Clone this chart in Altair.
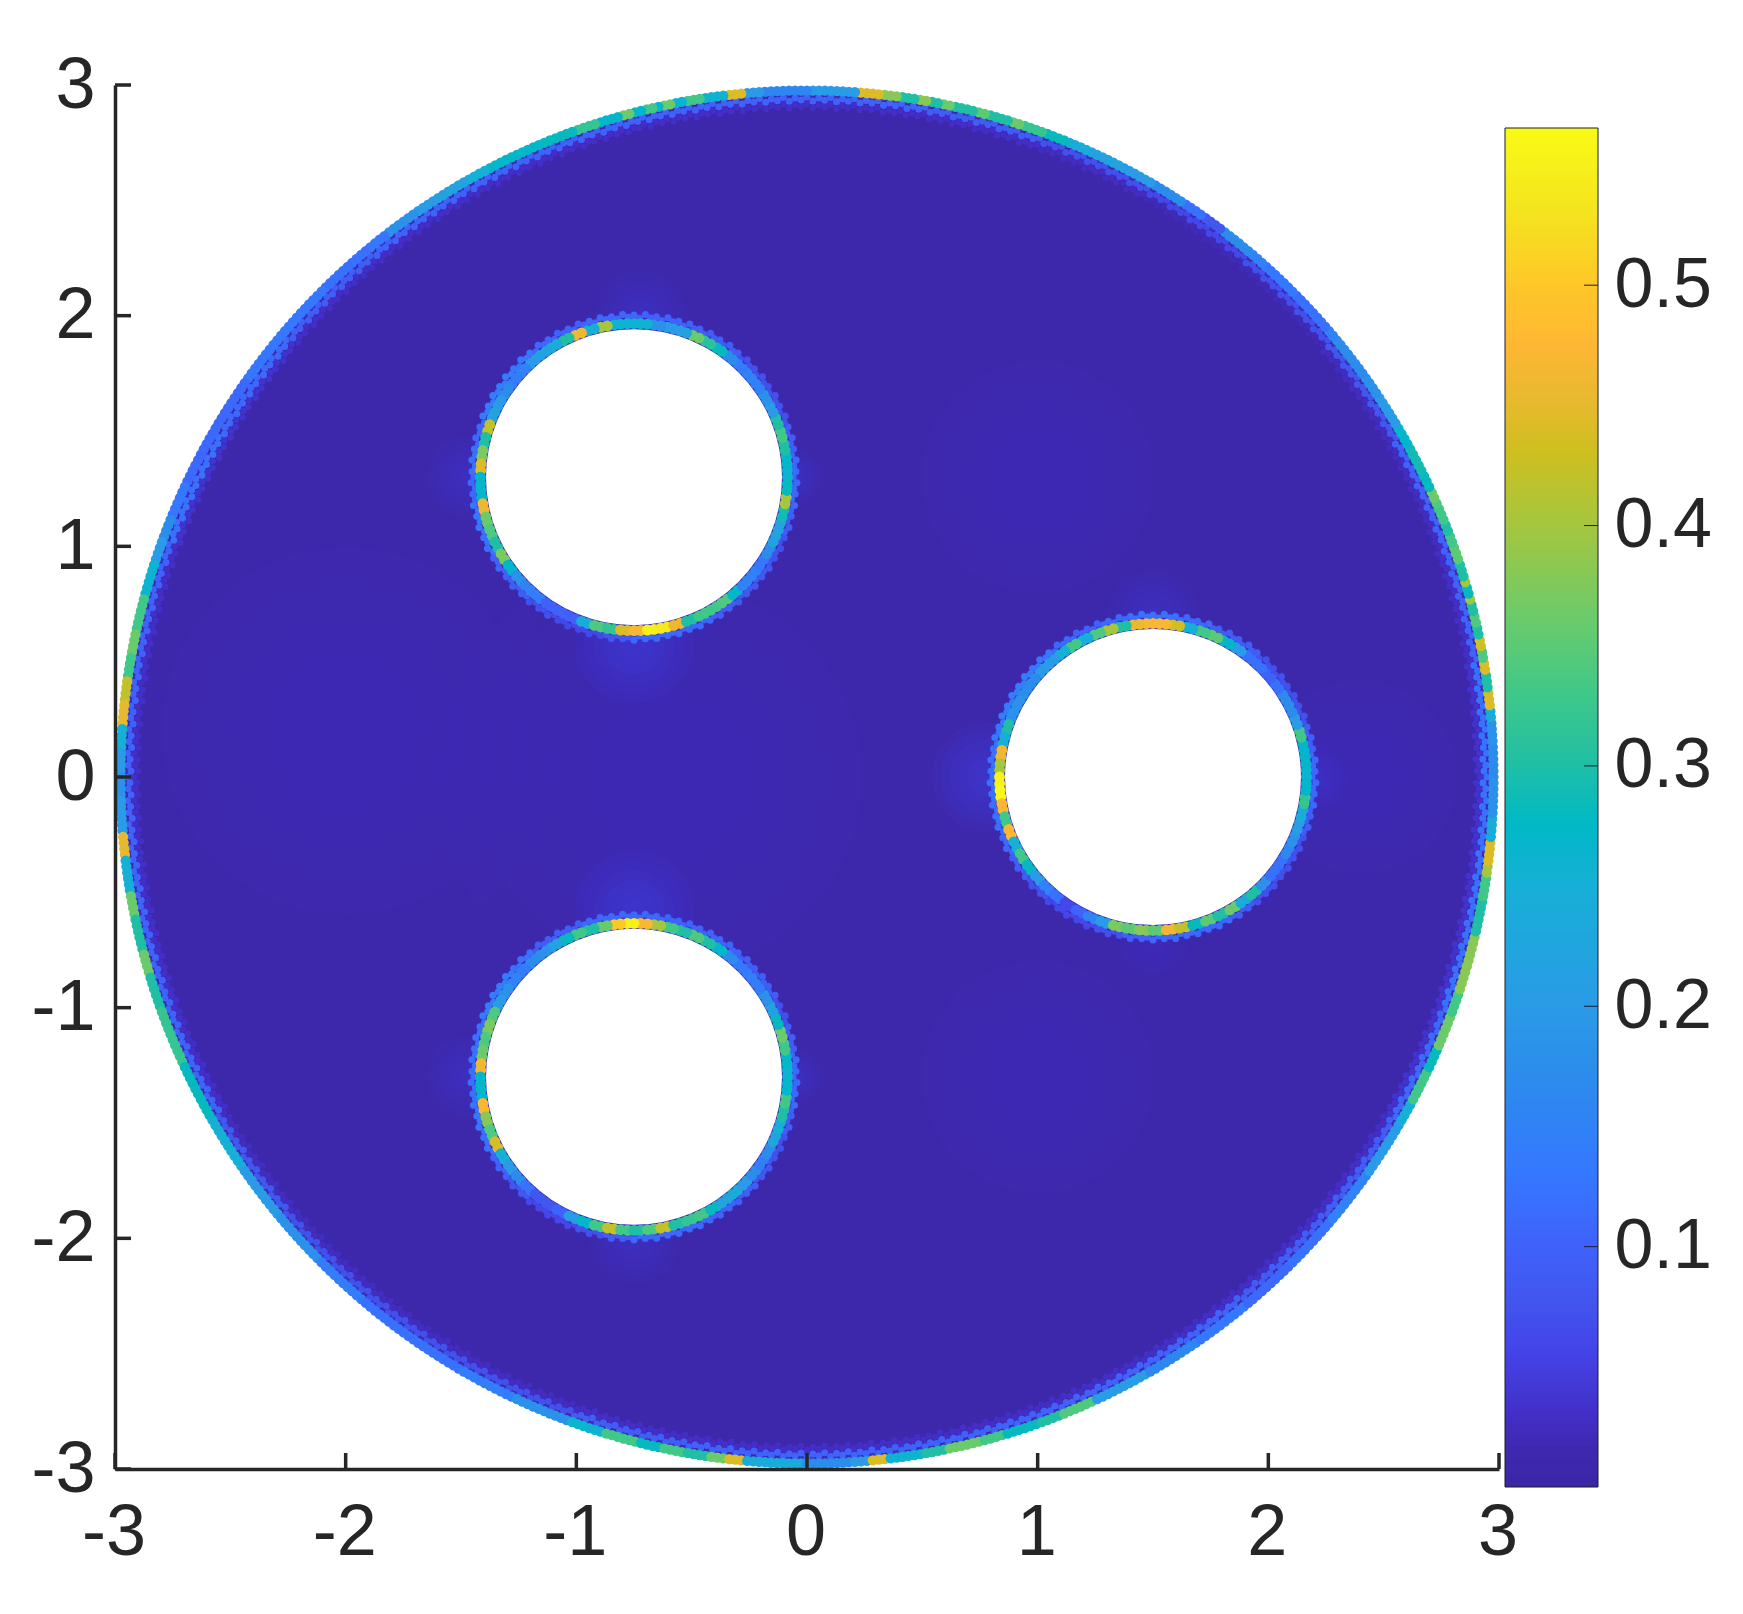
import numpy as np
import pandas as pd
import altair as alt

alt.data_transformers.disable_max_rows()

# --- axes and colour bar -------------------------------------------------
TICKS = [-3, -2, -1, 0, 1, 2, 3]
BAR_TICKS = [0.1, 0.2, 0.3, 0.4, 0.5]
BAR_DOMAIN = [0.0, 0.5654]
COLOR_STOPS = [0.0, 0.015, 0.03, 0.056, 0.08, 0.10, 0.13, 0.17, 0.20, 0.25, 0.275, 0.30, 0.33, 0.36, 0.40, 0.43, 0.45, 0.475, 0.50, 0.53, 0.5654]
COLORS = ["#3b26a6", "#3f28b0", "#432fc8", "#4444e8", "#4158f0", "#3f62fb", "#3578ff", "#2c8cec", "#2a9be6", "#16b0d6", "#00b8c6",
          "#20bfa5", "#40c888", "#6acb6c", "#a6c63e", "#cfbf20", "#e6b92e", "#ffb734", "#fec828", "#f4e41f", "#f9fb15"]

# --- geometry of the domain ----------------------------------------------
DISC_R = 2.985
HOLE_X = [-0.75, -0.75, 1.5]
HOLE_Y = [1.3, -1.3, 0.0]
HOLE_R = 0.6416

# --- field values --------------------------------------------------------
FIELD_BASE = 0.006
GLOW_X = [-2.0, -0.6, 1.0, 1.0, 2.4, -0.75, -0.75, -0.72, -0.75, 0.78, -1.47, -1.47, 1.5, 1.5, -0.05, -0.05, 2.2]
GLOW_Y = [0.2, 0.0, 1.3, -1.3, 0.0, 0.58, -0.58, 2.0, -2.0, 0.0, 1.3, -1.3, 0.7, -0.7, 1.3, -1.3, 0.0]
GLOW_R = [0.95, 1.0, 0.6, 0.6, 0.5, 0.26, 0.26, 0.2, 0.2, 0.24, 0.18, 0.18, 0.2, 0.18, 0.12, 0.12, 0.14]
GLOW_V = [0.03, 0.03, 0.03, 0.028, 0.026, 0.06, 0.06, 0.04, 0.04, 0.06, 0.045, 0.045, 0.045, 0.035, 0.04, 0.04, 0.04]

OUTER_ANGLE = [0, 3, 5, 6, 7.5, 9, 10, 11, 12, 13, 14, 14.7, 15.5, 16.2, 17, 18.4, 19.7, 21, 21.6, 23.2, 24, 25, 26.5, 29, 31,
               33.8, 36, 40, 41, 45, 48.5, 50, 53, 55, 57, 60, 63, 66, 68, 70, 72, 73, 75, 76, 78, 79, 80, 81, 82.5, 84, 86, 90,
               94, 95.5, 97, 98.9, 100.3, 101.3, 102.5, 103, 104, 104.8, 106, 108, 110, 113, 115, 118, 120, 123, 125, 128, 130,
               135, 140, 145, 150, 155, 158, 160, 162, 165, 168, 170, 172, 174, 176, 178, 180, 182, 185, 187, 190, 192, 195, 197,
               200, 205, 210, 215, 220, 225, 230, 235, 240, 245, 250, 253, 256, 258, 260, 262, 263.5, 265, 270, 274, 275.5, 277,
               280, 282, 285, 287, 290, 292, 295, 300, 305, 310, 315, 320, 325, 330, 332, 335, 337, 340, 342, 345, 347, 350, 352,
               353, 355, 357]
OUTER_RIM = [.17, .18, .24, .44, .30, .44, .34, .43, .30, .34, .30, .40, .28, .40, .30, .35, .33, .30, .33, .34, .36, .28, .29, .27, .20,
             .18, .17, .15, .12, .13, .15, .17, .08, .12, .17, .20, .22, .24, .28, .32, .36, .30, .35, .30, .36, .30, .38, .30, .38, .44, .20, .16,
             .20, .44, .26, .33, .26, .36, .27, .33, .27, .36, .27, .32, .28, .27, .27, .25, .22, .20, .18, .13, .12,
             .13, .13, .11, .11, .13, .17, .20, .26, .33, .36, .33, .42, .45, .25, .20, .18, .20, .45, .25, .36, .30, .36, .30,
             .32, .28, .25, .20, .18, .14, .12, .12, .14, .18, .26, .33, .28, .33, .30, .36, .44, .24, .17, .20, .44, .26,
             .30, .36, .33, .28, .30, .34, .20, .16, .13, .11, .12, .15, .20, .25, .33, .28, .36, .33, .38, .38, .30, .33, .40,
             .44, .24, .18]
OUTER_BAND = [.12, .10, .10, .08, .07, .06, .07, .09, .10, .10, .10, .10, .10, .09, .11, .12, .10, .10,
              .10, .10, .10, .08, .07, .07, .07, .09, .10, .10, .10, .10, .10, .09, .09, .11, .12, .12]
OUTER_EDGE = [.035, .03, .025, .025, .02, .02, .025, .03, .03, .03, .03, .03, .03, .03, .035, .035, .03, .03,
              .03, .03, .03, .025, .025, .025, .025, .03, .03, .03, .03, .03, .03, .03, .03, .035, .035, .035]

HOLE_A_RIM = [.26, .27, .30, .33, .30, .20, .18, .15, .15, .14, .17, .28, .31, .36, .22, .20, .18, .26, .26, .26, .40, .25, .46, .30,
              .24, .22, .20, .15, .14, .17, .20, .22, .42, .30, .37, .44, .27, .27, .46, .36, .34, .30, .37, .27, .18, .15, .14, .10,
              .10, .10, .24, .34, .32, .44, .47, .55, .54, .46, .30, .33, .33, .34, .27, .15, .15, .13, .17, .22, .22, .29, .40, .28]
HOLE_B_RIM = [.26, .27, .33, .36, .28, .22, .18, .14, .14, .13, .17, .27, .30, .34, .30, .33, .40, .47, .55, .50, .36, .30, .33, .28,
              .22, .18, .17, .14, .15, .18, .20, .34, .37, .34, .36, .46, .27, .27, .47, .38, .34, .44, .25, .20, .17, .12, .08, .08,
              .10, .20, .27, .33, .42, .33, .30, .34, .42, .30, .32, .33, .28, .22, .24, .20, .17, .14, .17, .22, .25, .30, .33, .27]
HOLE_C_RIM = [.26, .27, .27, .33, .20, .17, .17, .12, .10, .12, .12, .20, .27, .35, .33, .25, .43, .47, .47, .46, .30, .40, .34, .25,
              .33, .25, .20, .20, .17, .17, .18, .18, .30, .25, .46, .40, .55, .56, .47, .33, .47, .25, .33, .28, .20, .15, .12, .06,
              .10, .15, .20, .37, .35, .38, .35, .46, .42, .28, .35, .30, .36, .24, .30, .18, .12, .12, .16, .18, .20, .24, .32, .27]
HOLE_A_BAND = [.11, .09, .07, .07, .07, .09, .09, .10, .10, .11, .11, .10, .11, .13, .14, .14, .11, .12, .11, .13, .12, .10, .09, .07, .06, .06, .08, .11, .11, .11, .09, .08, .08, .07, .09, .11]
HOLE_B_BAND = [.11, .09, .07, .09, .09, .10, .10, .10, .11, .11, .11, .09, .09, .12, .14, .14, .12, .12, .12, .13, .12, .10, .08, .06, .06, .07, .09, .11, .11, .11, .10, .09, .08, .07, .09, .11]
HOLE_C_BAND = [.11, .09, .07, .07, .07, .09, .09, .11, .12, .12, .11, .10, .11, .13, .14, .14, .13, .12, .12, .12, .11, .09, .07, .06, .06, .07, .10, .11, .11, .11, .09, .07, .07, .07, .09, .11]
SAW = [0, 3, 1, 4]

# --- table construction ----------------------------------------------------
U = 1384 / 6.0   # picture pixels per axis unit, only for dot placement


def ring(cx, cy, radius, step, values, value_step, saw=None, angles=None):
    rows = []
    for i, a in enumerate(np.arange(0, 360, step)):
        if angles is None:
            v = values[int(a // value_step) % len(values)]
        else:
            v = values[int(np.searchsorted(angles, a, side="right")) - 1]
        r = radius + (saw[i % len(saw)] / U if saw else 0.0)
        t = np.deg2rad(a)
        rows.append({"x": cx + r * np.cos(t), "y": cy + r * np.sin(t), "v": v})
    return pd.DataFrame(rows)


base_df = pd.DataFrame({"x": [0.0], "y": [0.0], "r": [DISC_R], "v": [FIELD_BASE]})
glow_rows = []
for gx, gy, gr, gv in zip(GLOW_X, GLOW_Y, GLOW_R, GLOW_V):
    for frac in (1.0, 0.84, 0.68, 0.52, 0.36, 0.2):
        glow_rows.append({"x": gx, "y": gy, "r": gr * frac, "v": gv})
glow_df = pd.DataFrame(glow_rows)
hole_df = pd.DataFrame({"x": HOLE_X, "y": HOLE_Y, "r": [HOLE_R] * 3})

edge_df = ring(0, 0, (692 - 19) / U, 0.5, OUTER_EDGE, 10, saw=[-s for s in SAW])
band_df = pd.concat([
    ring(0, 0, (692 - 12) / U, 0.5, OUTER_BAND, 10, saw=[-s for s in SAW]),
] + [ring(hx, hy, 159 / U, 2.0, vals, 10, saw=SAW)
     for hx, hy, vals in zip(HOLE_X, HOLE_Y, [HOLE_A_BAND, HOLE_B_BAND, HOLE_C_BAND])])
rim_outer_df = ring(0, 0, 686.5 / U, 0.5, OUTER_RIM, 1, angles=OUTER_ANGLE)
rim_hole_df = pd.concat([ring(hx, hy, 153.5 / U, 2.5, vals, 5)
                         for hx, hy, vals in zip(HOLE_X, HOLE_Y, [HOLE_A_RIM, HOLE_B_RIM, HOLE_C_RIM])])

bar_vals = np.linspace(BAR_DOMAIN[0], BAR_DOMAIN[1], 400)
bar_df = pd.DataFrame({"v": bar_vals[:-1], "v2": np.minimum(bar_vals[1:] + 0.002, BAR_DOMAIN[1])})
tick_df = pd.DataFrame({"t": TICKS})
bar_tick_df = pd.DataFrame({"t": BAR_TICKS})

# --- scales ------------------------------------------------------------------
W = H = 1384
INK = "#262626"
FONT = "Liberation Sans"
xs = alt.Scale(domain=[-3, 3], range=[0, W], nice=False, zero=False)
ys = alt.Scale(domain=[-3, 3], range=[H, 0], nice=False, zero=False)
cs = alt.Scale(domain=COLOR_STOPS, range=COLORS, clamp=True, interpolate="rgb")
rs = alt.Scale(type="linear", domain=[0, 3], range=[0, 3 * U], zero=True, nice=False)
bar_y = alt.Scale(domain=BAR_DOMAIN, range=[1402, 43], nice=False, zero=False)
x_axis = alt.Axis(values=TICKS, ticks=False, grid=False, labelExpr="'' + datum.value", labelFont=FONT,
                  labelFontSize=72, labelColor=INK, labelPadding=28, labelOffset=-1.5, domainColor=INK, domainWidth=3.5,
                  labelFlush=False, labelOverlap=False, labelBound=False, title=None, zindex=1)
y_axis = alt.Axis(values=TICKS, ticks=False, grid=False, labelExpr="'' + datum.value", labelFont=FONT,
                  labelFontSize=72, labelColor=INK, labelPadding=20, domainColor=INK, domainWidth=3.5,
                  labelFlush=False, labelOverlap=False, labelBound=False, title=None, zindex=1)
X = alt.X("x:Q", scale=xs, axis=x_axis)
Y = alt.Y("y:Q", scale=ys, axis=y_axis)
C = alt.Color("v:Q", scale=cs, legend=None)
R = alt.Radius("r:Q", scale=rs, stack=None)
FULL = 2 * np.pi

base = alt.Chart(base_df).mark_arc(theta=0, theta2=FULL).encode(x=X, y=Y, radius=R, color=C)
glow = alt.Chart(glow_df).mark_arc(theta=0, theta2=FULL, opacity=0.1).encode(x=X, y=Y, radius=R, color=C)
edge = alt.Chart(edge_df).mark_circle(size=40, opacity=1).encode(x=X, y=Y, color=C)
band = alt.Chart(band_df).mark_circle(size=50, opacity=1).encode(x=X, y=Y, color=C)
holes = alt.Chart(hole_df).mark_arc(theta=0, theta2=FULL, fill="white").encode(x=X, y=Y, radius=R)
rim_outer = alt.Chart(rim_outer_df).mark_circle(size=105, opacity=1).encode(x=X, y=Y, color=C)
rim_hole = alt.Chart(rim_hole_df).mark_circle(size=118, opacity=1).encode(x=X, y=Y, color=C)
x_ticks = alt.Chart(tick_df).mark_rule(color=INK, strokeWidth=3.5).encode(
    x=alt.X("t:Q", scale=xs, axis=x_axis), y=alt.value(H - 16), y2=alt.value(H))
y_ticks = alt.Chart(tick_df).mark_rule(color=INK, strokeWidth=3.5).encode(
    y=alt.Y("t:Q", scale=ys, axis=y_axis), x=alt.value(0), x2=alt.value(16))

plot_group = alt.layer(base, glow, edge, band, holes, rim_outer, rim_hole, x_ticks, y_ticks)

BAR_L, BAR_R = 1390, 1483
bar_axis = alt.Axis(orient="right", values=BAR_TICKS, ticks=False, domain=False, grid=False, title=None,
                    labelFont=FONT, labelFontSize=70, labelColor=INK, labelPadding=16, offset=99,
                    labelFlush=False, labelOverlap=False, labelBound=False, format=".1f")
bar_rect = alt.Chart(bar_df).mark_rect().encode(
    x=alt.value(BAR_L), x2=alt.value(BAR_R),
    y=alt.Y("v:Q", scale=bar_y, axis=bar_axis),
    y2="v2:Q",
    color=C,
)
bar_ticks = alt.Chart(bar_tick_df).mark_rule(color="#1c1c3a", strokeWidth=1).encode(
    y=alt.Y("t:Q", scale=bar_y, axis=bar_axis), x=alt.value(BAR_R - 14), x2=alt.value(BAR_R))
bar_frame = alt.Chart(pd.DataFrame({"a": [BAR_DOMAIN[0]], "b": [BAR_DOMAIN[1]]})).mark_rect(
    fill=None, stroke="#1c1c2a", strokeWidth=1).encode(
    x=alt.value(BAR_L), x2=alt.value(BAR_R), y=alt.Y("a:Q", scale=bar_y, axis=bar_axis), y2="b:Q")
bar_group = alt.layer(bar_rect, bar_ticks, bar_frame)

chart = (
    alt.layer(plot_group, bar_group)
    .resolve_scale(y="independent")
    .properties(width=W, height=H, padding={"left": 107, "top": 77, "right": 232, "bottom": 133},
                autosize=alt.AutoSizeParams(type="none"), background="white")
    .configure_view(stroke=None)
)

chart.save("out.html", embed_options={"renderer": "svg", "actions": False})
